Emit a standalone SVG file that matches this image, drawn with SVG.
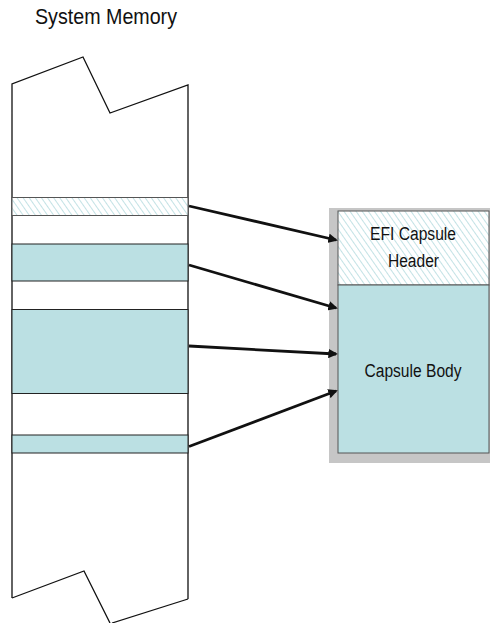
<svg xmlns="http://www.w3.org/2000/svg" width="490" height="623" viewBox="0 0 490 623">
<style>
.t{font-family:"Liberation Sans",Arial,sans-serif;fill:#111}
.edge{fill:none;stroke:#111;stroke-width:1.3}
.teal{fill:#bbe0e3;stroke:#222;stroke-width:1}
.hatch{fill:url(#hp);stroke:#555;stroke-width:1}
.arr{fill:none;stroke:#111;stroke-width:2.8;marker-end:url(#ah)}
</style>
<defs>
<pattern id="hp" patternUnits="userSpaceOnUse" width="5" height="5" patternTransform="rotate(-35)">
<rect width="5" height="5" fill="#fff"/>
<line x1="0" y1="0" x2="0" y2="5" stroke="#a9d6da" stroke-width="1.4"/>
</pattern>
<marker id="ah" viewBox="0 0 10 10" refX="8" refY="5" markerWidth="3.4" markerHeight="3.4" orient="auto" markerUnits="strokeWidth">
<path d="M0,0 L10,5 L0,10 z" fill="#111"/>
</marker>
</defs>
<text class="t" x="35" y="24" font-size="22.5" textLength="142" lengthAdjust="spacingAndGlyphs">System Memory</text>
<g id="memory">
<rect x="12" y="84" width="176" height="515" fill="#fff"/>
<polyline class="edge" points="12,598 12,84 83,57 110,113 188,85 188,599"/>
<polyline class="edge" points="12,598 84,571 110,623"/>
<polyline class="edge" points="188,599 112,623"/>
</g>
<g id="mem-header">
<rect class="hatch" x="12" y="197.5" width="176" height="18"/>
</g>
<g id="mem-body1"><rect class="teal" x="12" y="244" width="176" height="37"/></g>
<g id="mem-body2"><rect class="teal" x="12" y="309.5" width="176" height="84"/></g>
<g id="mem-body3"><rect class="teal" x="12" y="435" width="176" height="18"/></g>
<g id="capsule">
<rect x="329" y="208" width="165" height="255" fill="#c6c6c6"/>
<rect class="hatch" x="338" y="211" width="151" height="74"/>
<rect x="338" y="285" width="151" height="168" fill="#bbe0e3" stroke="#555" stroke-width="1"/>
<text class="t" x="413" y="240" font-size="18" text-anchor="middle" textLength="86" lengthAdjust="spacingAndGlyphs">EFI Capsule</text>
<text class="t" x="413.5" y="267" font-size="18" text-anchor="middle" textLength="51" lengthAdjust="spacingAndGlyphs">Header</text>
<text class="t" x="413" y="376.5" font-size="18" text-anchor="middle" textLength="97" lengthAdjust="spacingAndGlyphs">Capsule Body</text>
</g>
<g id="connectors">
<line class="arr" x1="189" y1="206" x2="336" y2="240"/>
<line class="arr" x1="189" y1="265" x2="336" y2="308"/>
<line class="arr" x1="189" y1="346" x2="336" y2="354"/>
<line class="arr" x1="189" y1="446.5" x2="336" y2="391"/>
</g>
</svg>
